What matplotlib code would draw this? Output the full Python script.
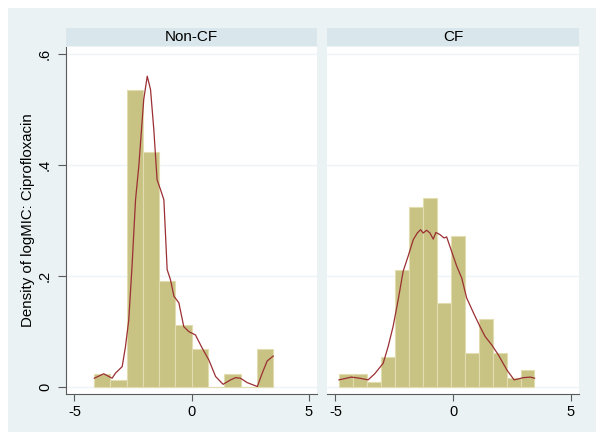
import numpy as np
from matplotlib import pyplot as plt
from matplotlib.patches import Rectangle

plt.rcParams['font.family'] = ['Liberation Sans', 'DejaVu Sans']

# histogram densities per bin
noncf_start, noncf_width = -4.16, 0.695
noncf_density = [0.023, 0.011, 0.536, 0.424, 0.190, 0.111, 0.067, 0.0, 0.023, 0.0, 0.067]
cf_start, cf_width = -4.85, 0.594
cf_density = [0.023, 0.023, 0.008, 0.053, 0.211, 0.324, 0.340, 0.151, 0.272,
              0.060, 0.121, 0.060, 0.016, 0.030]

# kernel density estimates
noncf_kx = [-4.15, -3.75, -3.39, -3.25, -2.96, -2.82, -2.68, -2.54, -2.39, -2.25,
            -2.04, -1.89, -1.75, -1.61, -1.47, -1.32, -1.18, -1.04, -0.90, -0.75,
            -0.54, -0.33, -0.11, 0.17, 0.46, 0.74, 1.03, 1.35, 1.67, 1.88,
            2.09, 2.38, 2.81, 3.02, 3.23, 3.49]
noncf_ky = [0.015, 0.023, 0.015, 0.024, 0.036, 0.072, 0.120, 0.217, 0.337, 0.398,
            0.518, 0.560, 0.536, 0.464, 0.373, 0.355, 0.337, 0.211, 0.193, 0.163,
            0.151, 0.108, 0.099, 0.093, 0.069, 0.048, 0.018, 0.004, 0.012, 0.016,
            0.015, 0.007, 0.0, 0.024, 0.046, 0.055]
cf_kx = [-4.85, -4.32, -3.97, -3.61, -3.33, -2.97, -2.76, -2.55, -2.33, -2.12,
         -1.91, -1.69, -1.52, -1.38, -1.27, -1.12, -0.98, -0.84, -0.73, -0.55,
         -0.38, -0.27, -0.06, 0.16, 0.37, 0.58, 0.87, 1.15, 1.37, 1.65,
         1.93, 2.29, 2.60, 3.00, 3.29, 3.47]
cf_ky = [0.012, 0.017, 0.015, 0.012, 0.023, 0.042, 0.072, 0.108, 0.157, 0.208,
         0.235, 0.265, 0.277, 0.283, 0.277, 0.282, 0.277, 0.266, 0.278, 0.274,
         0.268, 0.270, 0.244, 0.217, 0.196, 0.160, 0.133, 0.108, 0.090, 0.075,
         0.057, 0.030, 0.012, 0.016, 0.017, 0.015]

panels = ["Non-CF", "CF"]
xticks = [-5, 0, 5]
yticks = [0, 0.2, 0.4, 0.6]
ytick_labels = ["0", ".2", ".4", ".6"]

W, H = 596, 432
bg = "#eaf2f3"
strip_bg = "#d9e6eb"
bar_col = "#c8c283"
bar_edge = "#e2ddb0"
line_col = "#9b2f33"
axis_col = "#5a5a5a"

fig = plt.figure(figsize=(W / 100, H / 100), dpi=100, facecolor="white")
fig.patches.append(Rectangle((8 / W, 0), 1 - 8 / W, 1 - 8 / H, transform=fig.transFigure,
                             facecolor=bg, edgecolor="none", zorder=-10))


def px_axes(x0, y0, x1, y1):
    # pixel box measured from the top-left corner
    return fig.add_axes([x0 / W, 1 - y1 / H, (x1 - x0) / W, (y1 - y0) / H])


data = [(noncf_start, noncf_width, noncf_density, noncf_kx, noncf_ky),
        (cf_start, cf_width, cf_density, cf_kx, cf_ky)]
lefts = [(66, 317), (327, 579)]

for i, (name, (x0, x1), d) in enumerate(zip(panels, lefts, data)):
    start, width, dens, kx, ky = d
    ax = px_axes(x0, 47, x1, 394)
    ax.set_facecolor("white")
    edges = start + width * np.arange(len(dens))
    ax.bar(edges, dens, width=width, align="edge", color=bar_col,
           edgecolor=bar_edge, linewidth=0.8, zorder=2)
    ax.plot(kx, ky, color=line_col, linewidth=0.9, zorder=3)
    for yv in yticks:
        ax.axhline(yv, color="#eef4f5", linewidth=1.0, zorder=1)
    ax.set_xlim(-5.36, 5.36)
    ax.set_ylim(-0.0135, 0.6127)
    ax.set_xticks(xticks)
    ax.set_xticklabels([str(t) for t in xticks], fontsize=10.5)
    ax.tick_params(axis="x", length=5, width=0.8, color=axis_col, pad=3)
    for s in ["top", "right"]:
        ax.spines[s].set_visible(False)
    ax.spines["bottom"].set_color(axis_col)
    ax.spines["bottom"].set_linewidth(0.8)
    if i == 0:
        ax.set_yticks(yticks)
        ax.set_yticklabels(ytick_labels, fontsize=10.5, rotation=90, va="center")
        ax.tick_params(axis="y", length=6, width=0.8, color=axis_col, pad=4)
        ax.spines["left"].set_color(axis_col)
        ax.spines["left"].set_linewidth(0.8)
        ax.set_ylabel("Density of logMIC: Ciprofloxacin", fontsize=10.8, labelpad=2)
    else:
        ax.set_yticks([])
        ax.spines["left"].set_visible(False)

    st = px_axes(x0, 28, x1, 46)
    st.set_facecolor(strip_bg)
    st.set_xticks([])
    st.set_yticks([])
    for s in st.spines.values():
        s.set_visible(False)
    st.text(0.5, 0.5, name, ha="center", va="center", fontsize=11, transform=st.transAxes)

fig.savefig("out.png", dpi=100, facecolor="white")
